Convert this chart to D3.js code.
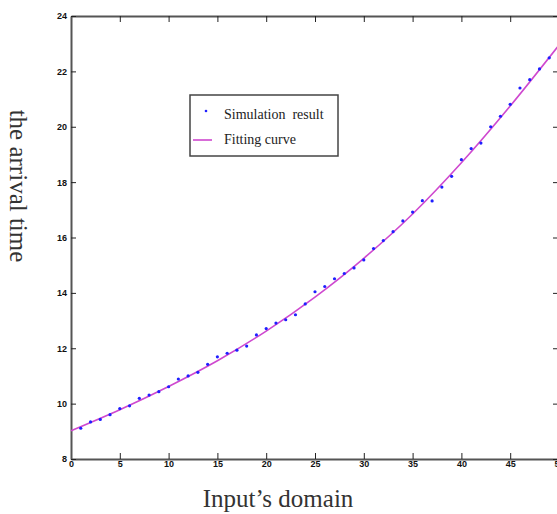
<!DOCTYPE html>
<html>
<head>
<meta charset="utf-8">
<script src="https://cdn.jsdelivr.net/npm/d3@7"></script>
<style>
  html, body { margin: 0; padding: 0; background: #fff; }
  svg { display: block; }
</style>
</head>
<body>
<svg id="chart" width="557" height="514"></svg>
<script>
// simulated arrival times (x = 1..49)
const simX = d3.range(1, 50);
const simY = [
  9.11, 9.34, 9.43, 9.60, 9.82, 9.92, 10.19, 10.31, 10.43, 10.61,
  10.89, 11.00, 11.13, 11.42, 11.69, 11.82, 11.93, 12.08, 12.48, 12.71,
  12.91, 13.03, 13.21, 13.60, 14.04, 14.23, 14.51, 14.70, 14.90, 15.19,
  15.60, 15.89, 16.21, 16.60, 16.92, 17.33, 17.32, 17.82, 18.21, 18.81,
  19.21, 19.41, 20.00, 20.38, 20.81, 21.40, 21.70, 22.09, 22.49
];

// fitting curve, every 5 units
const fitX = [0, 5, 10, 15, 20, 25, 30, 35, 40, 45, 50];
const fitY = [9.02, 9.78, 10.62, 11.55, 12.62, 13.85, 15.25, 16.85, 18.70, 20.75, 22.95];

const xTicks = [0, 5, 10, 15, 20, 25, 30, 35, 40, 45, 50];
const yTicks = [8, 10, 12, 14, 16, 18, 20, 22, 24];

const svg = d3.select("#chart");
// plot box; the right edge sits just past the picture, as in the original
const PLOT = { left: 71, right: 559, top: 16, bottom: 459 };

const x = d3.scaleLinear().domain([0, 50]).range([PLOT.left, PLOT.right]);
const y = d3.scaleLinear().domain([8, 24]).range([PLOT.bottom, PLOT.top]);

const axisColor = "#555";

// axes (MATLAB style, ticks pointing inward)
const styleAxis = g => {
  g.select(".domain").attr("stroke", axisColor).attr("stroke-width", 2);
  g.selectAll(".tick line").attr("stroke", "#222").attr("stroke-width", 1);
  g.selectAll(".tick text")
    .attr("fill", "#111")
    .attr("font-family", "Liberation Sans, Arial, sans-serif")
    .attr("font-size", 9)
    .attr("font-weight", "bold");
};

svg.append("g")
  .attr("transform", `translate(0,${PLOT.bottom})`)
  .call(d3.axisBottom(x).tickValues(xTicks).tickSizeInner(-6).tickSizeOuter(0).tickPadding(3))
  .call(styleAxis)
  .call(g => g.selectAll(".tick text").attr("y", 2));

svg.append("g")
  .attr("transform", `translate(0,${PLOT.top})`)
  .call(d3.axisTop(x).tickValues(xTicks).tickSizeInner(-6).tickSizeOuter(0).tickFormat(""))
  .call(styleAxis);

svg.append("g")
  .attr("transform", `translate(${PLOT.left},0)`)
  .call(d3.axisLeft(y).tickValues(yTicks).tickSizeInner(-5).tickSizeOuter(0).tickPadding(3))
  .call(styleAxis)
  .call(g => g.selectAll(".tick text").attr("x", -4));

svg.append("g")
  .attr("transform", `translate(${PLOT.right},0)`)
  .call(d3.axisRight(y).tickValues(yTicks).tickSizeInner(-6).tickSizeOuter(0).tickFormat(""))
  .call(styleAxis);

// fitting curve
const line = d3.line()
  .x(d => x(d[0]))
  .y(d => y(d[1]))
  .curve(d3.curveMonotoneX);

svg.append("path")
  .datum(d3.zip(fitX, fitY))
  .attr("fill", "none")
  .attr("stroke", "#cf48cf")
  .attr("stroke-width", 1.6)
  .attr("d", line);

// simulation points
svg.append("g")
  .selectAll("circle")
  .data(d3.zip(simX, simY))
  .join("circle")
  .attr("cx", d => x(d[0]))
  .attr("cy", d => y(d[1]))
  .attr("r", 1.6)
  .attr("fill", "#1f1fff");

// legend
const legend = svg.append("g").attr("transform", "translate(190,95)");
legend.append("rect")
  .attr("width", 148).attr("height", 61)
  .attr("fill", "#fff")
  .attr("stroke", "#444")
  .attr("stroke-width", 1.5);
legend.append("circle")
  .attr("cx", 16).attr("cy", 16).attr("r", 1.3).attr("fill", "#1f1fff");
legend.append("line")
  .attr("x1", 3).attr("x2", 22).attr("y1", 45).attr("y2", 45)
  .attr("stroke", "#cf48cf").attr("stroke-width", 1.6);
legend.selectAll("text")
  .data(["Simulation  result", "Fitting curve"])
  .join("text")
  .attr("x", 34)
  .attr("y", (d, i) => 24 + i * 25)
  .attr("font-family", "Liberation Serif, Times New Roman, serif")
  .attr("font-size", 14)
  .attr("fill", "#222")
  .style("white-space", "pre")
  .text(d => d);

// axis titles
svg.append("text")
  .attr("x", 278).attr("y", 507)
  .attr("text-anchor", "middle")
  .attr("font-family", "Liberation Serif, Times New Roman, serif")
  .attr("font-size", 25)
  .attr("fill", "#333")
  .text("Input’s domain");

svg.append("text")
  .attr("transform", "translate(10,186) rotate(90)")
  .attr("text-anchor", "middle")
  .attr("font-family", "Liberation Serif, Times New Roman, serif")
  .attr("font-size", 25)
  .attr("fill", "#333")
  .text("the arrival time");
</script>
</body>
</html>
